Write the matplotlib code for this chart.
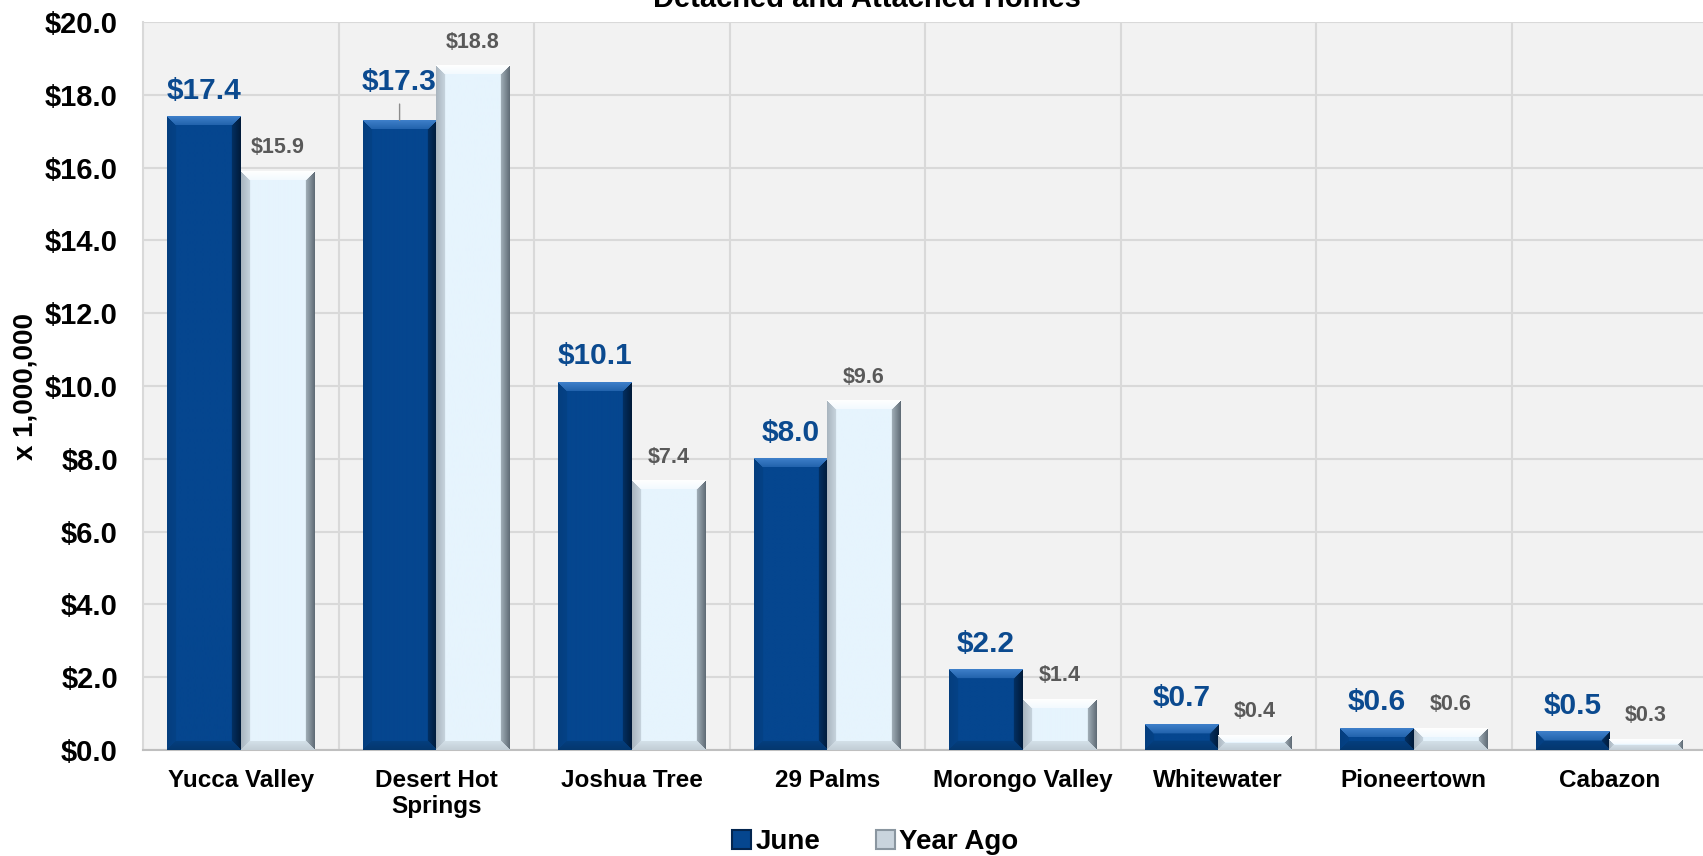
import numpy as np
import matplotlib
matplotlib.use("Agg")
import matplotlib.pyplot as plt
from matplotlib.patches import Patch
from matplotlib.colors import to_rgb

plt.rcParams['font.family'] = ['Liberation Sans', 'DejaVu Sans']
plt.rcParams['font.weight'] = 'bold'

# data (x 1,000,000 dollars)
areas = ["Yucca Valley", "Desert Hot\nSprings", "Joshua Tree", "29 Palms",
         "Morongo Valley", "Whitewater", "Pioneertown", "Cabazon"]
june = [17.4, 17.3, 10.1, 8.0, 2.2, 0.7, 0.6, 0.5]
year_ago = [15.9, 18.8, 7.4, 9.6, 1.4, 0.4, 0.6, 0.3]
yticks = [0, 2, 4, 6, 8, 10, 12, 14, 16, 18, 20]

JUNE_C = "#05468F"
YEAR_C = "#E6F4FD"


def bevel_img(w, h, base, top, bottom, left, right, b=9):
    """rgb image of a bevelled bar face, w x h pixels"""
    b = max(1.0, min(b, h / 2.0, w / 2.0))
    yy, xx = np.mgrid[0:h, 0:w] + 0.5
    d = np.stack([yy, h - yy, xx, w - xx])
    idx = d.argmin(0)
    dmin = d.min(0)
    sides = np.array([to_rgb(c) for c in (top, bottom, left, right)])
    t = np.where(dmin < b, 0.5 + 0.5 * (1 - dmin / b), 0.0)[..., None]
    img = np.array(to_rgb(base))[None, None, :] * (1 - t) + sides[idx] * t
    return np.clip(img, 0, 1)


fig = plt.figure(figsize=(17.03, 8.56), dpi=100)
ax = fig.add_axes([143 / 1703, 106 / 856, 1564 / 1703, 728 / 856])
ax.set_facecolor("#F2F2F2")

x = np.arange(len(areas))
w = 0.375
b1 = ax.bar(x - w / 2, june, w, color=JUNE_C, zorder=2)
b2 = ax.bar(x + w / 2, year_ago, w, color=YEAR_C, zorder=2)

ax.set_xlim(-0.5, len(areas) - 0.5)
ax.set_ylim(0, 20)

# bevel shading drawn over each bar
styles = [(b1, (JUNE_C, "#3F80CA", "#04376E", "#043E7E", "#011A38")),
          (b2, (YEAR_C, "#FFFFFF", "#C2CDD5", "#A8B4BE", "#5E6A74"))]
for bars, cols in styles:
    for p in bars:
        x0, y0 = p.get_x(), p.get_y()
        x1, y1 = x0 + p.get_width(), y0 + p.get_height()
        (px0, py0), (px1, py1) = ax.transData.transform([(x0, y0), (x1, y1)])
        pw, ph = int(round(px1 - px0)), int(round(py1 - py0))
        if pw < 2 or ph < 2:
            continue
        ax.imshow(bevel_img(pw, ph, *cols), extent=(x0, x1, y0, y1),
                  aspect='auto', zorder=3, interpolation='bilinear')

ax.set_xlim(-0.5, len(areas) - 0.5)
ax.set_ylim(0, 20)

# value labels
for i, v in enumerate(june):
    off = 22 if i == 1 else 13
    ax.annotate(f"${v:.1f}", (x[i] - w / 2, v), xytext=(0, off),
                textcoords='offset points', ha='center', va='baseline',
                fontsize=21.5, fontweight='bold', color="#0B4A8F", zorder=5,
                arrowprops=dict(arrowstyle='-', color='#8C8C8C', lw=1,
                                shrinkA=4, shrinkB=0) if i == 1 else None)
for i, v in enumerate(year_ago):
    ax.annotate(f"${v:.1f}", (x[i] + w / 2, v), xytext=(0, 13),
                textcoords='offset points', ha='center', va='baseline',
                fontsize=15.5, fontweight='bold', color="#595959", zorder=5)

# grid
ax.set_yticks(yticks)
ax.set_yticklabels([f"${t:.1f}" for t in yticks], fontsize=21, fontweight='bold')
ax.set_xticks(x)
ax.set_xticklabels(areas, fontsize=17.5, fontweight='bold', linespacing=1.15)
ax.set_xticks(x[:-1] + 0.5, minor=True)
ax.tick_params(axis='both', which='both', length=0)
ax.tick_params(axis='y', pad=18)
ax.tick_params(axis='x', pad=14)
ax.yaxis.grid(True, color="#D9D9D9", lw=1.5, zorder=0)
ax.xaxis.grid(True, which='minor', color="#D9D9D9", lw=1.5, zorder=0)
ax.xaxis.grid(False, which='major')
ax.set_axisbelow(True)
for s in ("top", "right"):
    ax.spines[s].set_visible(False)
ax.spines["left"].set_color("#D9D9D9")
ax.spines["left"].set_linewidth(1.5)
ax.spines["bottom"].set_color("#BFBFBF")
ax.spines["bottom"].set_linewidth(1.5)

ax.set_ylabel("x 1,000,000", fontsize=20, fontweight='bold', va='center')
ax.yaxis.set_label_coords((26 - 143) / 1564, 0.5)

fig.text(867 / 1703, 1 - 7 / 856, "Detached and Attached Homes", ha='center',
         va='baseline', fontsize=21, fontweight='bold')

handles = [Patch(facecolor=JUNE_C, edgecolor="#03254F", lw=1.5),
           Patch(facecolor="#C9D4DD", edgecolor="#8A96A0", lw=1.5)]
fig.legend(handles, ["June", "Year Ago"], loc='center',
           bbox_to_anchor=(875 / 1703, 14 / 856), ncol=2, frameon=False,
           prop=dict(size=20, weight='bold'), handlelength=0.7,
           handleheight=0.7, handletextpad=0.15, columnspacing=2.0,
           borderpad=0)

fig.savefig("out.png", dpi=100)
